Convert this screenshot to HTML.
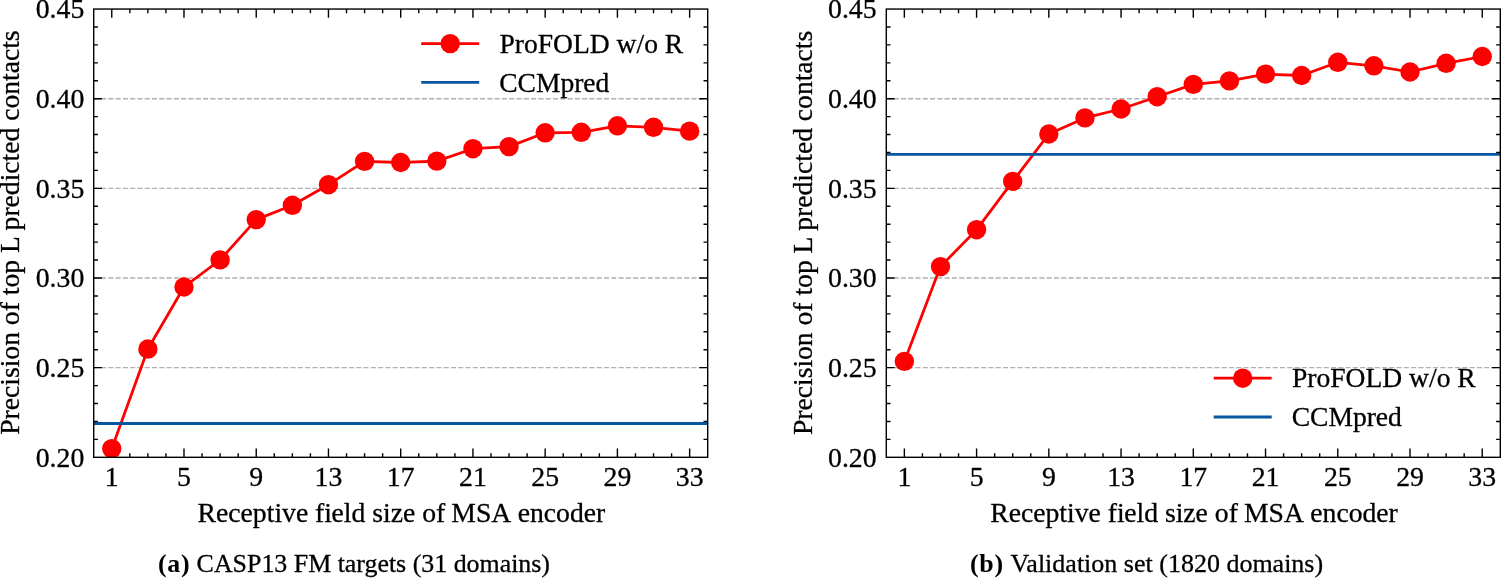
<!DOCTYPE html>
<html lang="en"><head><meta charset="utf-8"><title>Precision vs receptive field size</title>
<style>html,body{margin:0;padding:0;background:#fff;overflow:hidden}svg{display:block}
text{stroke:#000;stroke-width:0.3px;stroke-linejoin:round}</style>
</head><body>
<svg width="1501" height="578" viewBox="0 0 1501 578" font-family="'Liberation Serif', serif" font-size="27.78" fill="#000">
<rect width="1501" height="578" fill="#fff"/>
<g class="t">
<g>
<clipPath id="cp1"><rect x="93.70" y="9.05" width="614.00" height="448.25"/></clipPath>
<line x1="93.70" y1="367.65" x2="707.70" y2="367.65" stroke="#b0b0b0" stroke-width="1.39" stroke-dasharray="5.09 2.2"/>
<line x1="93.70" y1="278.00" x2="707.70" y2="278.00" stroke="#b0b0b0" stroke-width="1.39" stroke-dasharray="5.09 2.2"/>
<line x1="93.70" y1="188.35" x2="707.70" y2="188.35" stroke="#b0b0b0" stroke-width="1.39" stroke-dasharray="5.09 2.2"/>
<line x1="93.70" y1="98.70" x2="707.70" y2="98.70" stroke="#b0b0b0" stroke-width="1.39" stroke-dasharray="5.09 2.2"/>
<path d="M111.76 457.30v-8.7M111.76 9.05v8.7M129.82 457.30v-4.1M129.82 9.05v4.1M147.88 457.30v-4.1M147.88 9.05v4.1M165.94 457.30v-4.1M165.94 9.05v4.1M183.99 457.30v-8.7M183.99 9.05v8.7M202.05 457.30v-4.1M202.05 9.05v4.1M220.11 457.30v-4.1M220.11 9.05v4.1M238.17 457.30v-4.1M238.17 9.05v4.1M256.23 457.30v-8.7M256.23 9.05v8.7M274.29 457.30v-4.1M274.29 9.05v4.1M292.35 457.30v-4.1M292.35 9.05v4.1M310.41 457.30v-4.1M310.41 9.05v4.1M328.46 457.30v-8.7M328.46 9.05v8.7M346.52 457.30v-4.1M346.52 9.05v4.1M364.58 457.30v-4.1M364.58 9.05v4.1M382.64 457.30v-4.1M382.64 9.05v4.1M400.70 457.30v-8.7M400.70 9.05v8.7M418.76 457.30v-4.1M418.76 9.05v4.1M436.82 457.30v-4.1M436.82 9.05v4.1M454.88 457.30v-4.1M454.88 9.05v4.1M472.94 457.30v-8.7M472.94 9.05v8.7M490.99 457.30v-4.1M490.99 9.05v4.1M509.05 457.30v-4.1M509.05 9.05v4.1M527.11 457.30v-4.1M527.11 9.05v4.1M545.17 457.30v-8.7M545.17 9.05v8.7M563.23 457.30v-4.1M563.23 9.05v4.1M581.29 457.30v-4.1M581.29 9.05v4.1M599.35 457.30v-4.1M599.35 9.05v4.1M617.41 457.30v-8.7M617.41 9.05v8.7M635.46 457.30v-4.1M635.46 9.05v4.1M653.52 457.30v-4.1M653.52 9.05v4.1M671.58 457.30v-4.1M671.58 9.05v4.1M689.64 457.30v-8.7M689.64 9.05v8.7M93.70 439.37h4.2M707.70 439.37h-4.2M93.70 421.44h4.2M707.70 421.44h-4.2M93.70 403.51h4.2M707.70 403.51h-4.2M93.70 385.58h4.2M707.70 385.58h-4.2M93.70 367.65h8.3M707.70 367.65h-8.5M93.70 349.72h4.2M707.70 349.72h-4.2M93.70 331.79h4.2M707.70 331.79h-4.2M93.70 313.86h4.2M707.70 313.86h-4.2M93.70 295.93h4.2M707.70 295.93h-4.2M93.70 278.00h8.3M707.70 278.00h-8.5M93.70 260.07h4.2M707.70 260.07h-4.2M93.70 242.14h4.2M707.70 242.14h-4.2M93.70 224.21h4.2M707.70 224.21h-4.2M93.70 206.28h4.2M707.70 206.28h-4.2M93.70 188.35h8.3M707.70 188.35h-8.5M93.70 170.42h4.2M707.70 170.42h-4.2M93.70 152.49h4.2M707.70 152.49h-4.2M93.70 134.56h4.2M707.70 134.56h-4.2M93.70 116.63h4.2M707.70 116.63h-4.2M93.70 98.70h8.3M707.70 98.70h-8.5M93.70 80.77h4.2M707.70 80.77h-4.2M93.70 62.84h4.2M707.70 62.84h-4.2M93.70 44.91h4.2M707.70 44.91h-4.2M93.70 26.98h4.2M707.70 26.98h-4.2" stroke="#000" stroke-width="1.4" fill="none"/>
<g clip-path="url(#cp1)"><polyline points="111.76,448.70 147.88,349.05 183.99,287.00 220.11,259.90 256.23,219.60 292.35,205.30 328.46,184.70 364.58,161.40 400.70,162.50 436.82,161.10 472.94,148.70 509.05,146.65 545.17,132.80 581.29,132.30 617.41,125.80 653.52,127.30 689.64,131.15" fill="none" stroke="#ff0000" stroke-width="2.78" stroke-linejoin="round"/>
<circle cx="111.76" cy="448.70" r="9.7" fill="#ff0000"/>
<circle cx="147.88" cy="349.05" r="9.7" fill="#ff0000"/>
<circle cx="183.99" cy="287.00" r="9.7" fill="#ff0000"/>
<circle cx="220.11" cy="259.90" r="9.7" fill="#ff0000"/>
<circle cx="256.23" cy="219.60" r="9.7" fill="#ff0000"/>
<circle cx="292.35" cy="205.30" r="9.7" fill="#ff0000"/>
<circle cx="328.46" cy="184.70" r="9.7" fill="#ff0000"/>
<circle cx="364.58" cy="161.40" r="9.7" fill="#ff0000"/>
<circle cx="400.70" cy="162.50" r="9.7" fill="#ff0000"/>
<circle cx="436.82" cy="161.10" r="9.7" fill="#ff0000"/>
<circle cx="472.94" cy="148.70" r="9.7" fill="#ff0000"/>
<circle cx="509.05" cy="146.65" r="9.7" fill="#ff0000"/>
<circle cx="545.17" cy="132.80" r="9.7" fill="#ff0000"/>
<circle cx="581.29" cy="132.30" r="9.7" fill="#ff0000"/>
<circle cx="617.41" cy="125.80" r="9.7" fill="#ff0000"/>
<circle cx="653.52" cy="127.30" r="9.7" fill="#ff0000"/>
<circle cx="689.64" cy="131.15" r="9.7" fill="#ff0000"/>
</g>
<line x1="93.70" y1="423.50" x2="707.70" y2="423.50" stroke="#07579f" stroke-width="2.78"/>
<rect x="93.70" y="9.05" width="614.00" height="448.25" fill="none" stroke="#000" stroke-width="1.4"/>
<text x="111.76" y="486.1" text-anchor="middle">1</text>
<text x="183.99" y="486.1" text-anchor="middle">5</text>
<text x="256.23" y="486.1" text-anchor="middle">9</text>
<text x="328.46" y="486.1" text-anchor="middle">13</text>
<text x="400.70" y="486.1" text-anchor="middle">17</text>
<text x="472.94" y="486.1" text-anchor="middle">21</text>
<text x="545.17" y="486.1" text-anchor="middle">25</text>
<text x="617.41" y="486.1" text-anchor="middle">29</text>
<text x="689.64" y="486.1" text-anchor="middle">33</text>
<text x="84.30" y="466.60" text-anchor="end">0.20</text>
<text x="84.30" y="376.95" text-anchor="end">0.25</text>
<text x="84.30" y="287.30" text-anchor="end">0.30</text>
<text x="84.30" y="197.65" text-anchor="end">0.35</text>
<text x="84.30" y="108.00" text-anchor="end">0.40</text>
<text x="84.30" y="18.35" text-anchor="end">0.45</text>
<text x="197.60" y="521.7" font-size="27.66">Receptive fi<tspan dx="-0.4">eld size of </tspan><tspan dx="-0.8">MSA </tspan><tspan dx="1">encoder</tspan></text>
<text transform="translate(19.20,232.60) rotate(-90)" text-anchor="middle" font-size="27.6">Precision of top L predicted contacts</text>
<line x1="421.20" y1="43.65" x2="479.20" y2="43.65" stroke="#ff0000" stroke-width="2.78"/>
<circle cx="450.20" cy="43.65" r="9.7" fill="#ff0000"/>
<line x1="421.20" y1="82.45" x2="479.20" y2="82.45" stroke="#07579f" stroke-width="2.78"/>
<text x="499.50" y="52.60" font-size="27.56">ProFOLD w/o R</text>
<text x="499.20" y="91.60" font-size="27.56">CCMpred</text>
<text x="157.9" y="572.4" font-size="25.9"><tspan font-weight="bold" stroke="none" letter-spacing="0.75">(a)</tspan><tspan x="190.15"> CASP13 FM targets (31 domains)</tspan></text>
</g>
<g>
<clipPath id="cp2"><rect x="886.30" y="9.05" width="614.00" height="448.25"/></clipPath>
<line x1="886.30" y1="367.65" x2="1500.30" y2="367.65" stroke="#b0b0b0" stroke-width="1.39" stroke-dasharray="5.09 2.2"/>
<line x1="886.30" y1="278.00" x2="1500.30" y2="278.00" stroke="#b0b0b0" stroke-width="1.39" stroke-dasharray="5.09 2.2"/>
<line x1="886.30" y1="188.35" x2="1500.30" y2="188.35" stroke="#b0b0b0" stroke-width="1.39" stroke-dasharray="5.09 2.2"/>
<line x1="886.30" y1="98.70" x2="1500.30" y2="98.70" stroke="#b0b0b0" stroke-width="1.39" stroke-dasharray="5.09 2.2"/>
<path d="M904.36 457.30v-8.7M904.36 9.05v8.7M922.42 457.30v-4.1M922.42 9.05v4.1M940.48 457.30v-4.1M940.48 9.05v4.1M958.54 457.30v-4.1M958.54 9.05v4.1M976.59 457.30v-8.7M976.59 9.05v8.7M994.65 457.30v-4.1M994.65 9.05v4.1M1012.71 457.30v-4.1M1012.71 9.05v4.1M1030.77 457.30v-4.1M1030.77 9.05v4.1M1048.83 457.30v-8.7M1048.83 9.05v8.7M1066.89 457.30v-4.1M1066.89 9.05v4.1M1084.95 457.30v-4.1M1084.95 9.05v4.1M1103.01 457.30v-4.1M1103.01 9.05v4.1M1121.06 457.30v-8.7M1121.06 9.05v8.7M1139.12 457.30v-4.1M1139.12 9.05v4.1M1157.18 457.30v-4.1M1157.18 9.05v4.1M1175.24 457.30v-4.1M1175.24 9.05v4.1M1193.30 457.30v-8.7M1193.30 9.05v8.7M1211.36 457.30v-4.1M1211.36 9.05v4.1M1229.42 457.30v-4.1M1229.42 9.05v4.1M1247.48 457.30v-4.1M1247.48 9.05v4.1M1265.54 457.30v-8.7M1265.54 9.05v8.7M1283.59 457.30v-4.1M1283.59 9.05v4.1M1301.65 457.30v-4.1M1301.65 9.05v4.1M1319.71 457.30v-4.1M1319.71 9.05v4.1M1337.77 457.30v-8.7M1337.77 9.05v8.7M1355.83 457.30v-4.1M1355.83 9.05v4.1M1373.89 457.30v-4.1M1373.89 9.05v4.1M1391.95 457.30v-4.1M1391.95 9.05v4.1M1410.01 457.30v-8.7M1410.01 9.05v8.7M1428.06 457.30v-4.1M1428.06 9.05v4.1M1446.12 457.30v-4.1M1446.12 9.05v4.1M1464.18 457.30v-4.1M1464.18 9.05v4.1M1482.24 457.30v-8.7M1482.24 9.05v8.7M886.30 439.37h4.2M1500.30 439.37h-4.2M886.30 421.44h4.2M1500.30 421.44h-4.2M886.30 403.51h4.2M1500.30 403.51h-4.2M886.30 385.58h4.2M1500.30 385.58h-4.2M886.30 367.65h8.3M1500.30 367.65h-8.5M886.30 349.72h4.2M1500.30 349.72h-4.2M886.30 331.79h4.2M1500.30 331.79h-4.2M886.30 313.86h4.2M1500.30 313.86h-4.2M886.30 295.93h4.2M1500.30 295.93h-4.2M886.30 278.00h8.3M1500.30 278.00h-8.5M886.30 260.07h4.2M1500.30 260.07h-4.2M886.30 242.14h4.2M1500.30 242.14h-4.2M886.30 224.21h4.2M1500.30 224.21h-4.2M886.30 206.28h4.2M1500.30 206.28h-4.2M886.30 188.35h8.3M1500.30 188.35h-8.5M886.30 170.42h4.2M1500.30 170.42h-4.2M886.30 152.49h4.2M1500.30 152.49h-4.2M886.30 134.56h4.2M1500.30 134.56h-4.2M886.30 116.63h4.2M1500.30 116.63h-4.2M886.30 98.70h8.3M1500.30 98.70h-8.5M886.30 80.77h4.2M1500.30 80.77h-4.2M886.30 62.84h4.2M1500.30 62.84h-4.2M886.30 44.91h4.2M1500.30 44.91h-4.2M886.30 26.98h4.2M1500.30 26.98h-4.2" stroke="#000" stroke-width="1.4" fill="none"/>
<g clip-path="url(#cp2)"><polyline points="904.36,361.40 940.48,266.60 976.59,229.70 1012.71,181.40 1048.83,134.00 1084.95,117.90 1121.06,109.00 1157.18,96.70 1193.30,84.40 1229.42,80.90 1265.54,74.10 1301.65,75.50 1337.77,62.30 1373.89,65.80 1410.01,72.00 1446.12,63.30 1482.24,56.50" fill="none" stroke="#ff0000" stroke-width="2.78" stroke-linejoin="round"/>
<circle cx="904.36" cy="361.40" r="9.7" fill="#ff0000"/>
<circle cx="940.48" cy="266.60" r="9.7" fill="#ff0000"/>
<circle cx="976.59" cy="229.70" r="9.7" fill="#ff0000"/>
<circle cx="1012.71" cy="181.40" r="9.7" fill="#ff0000"/>
<circle cx="1048.83" cy="134.00" r="9.7" fill="#ff0000"/>
<circle cx="1084.95" cy="117.90" r="9.7" fill="#ff0000"/>
<circle cx="1121.06" cy="109.00" r="9.7" fill="#ff0000"/>
<circle cx="1157.18" cy="96.70" r="9.7" fill="#ff0000"/>
<circle cx="1193.30" cy="84.40" r="9.7" fill="#ff0000"/>
<circle cx="1229.42" cy="80.90" r="9.7" fill="#ff0000"/>
<circle cx="1265.54" cy="74.10" r="9.7" fill="#ff0000"/>
<circle cx="1301.65" cy="75.50" r="9.7" fill="#ff0000"/>
<circle cx="1337.77" cy="62.30" r="9.7" fill="#ff0000"/>
<circle cx="1373.89" cy="65.80" r="9.7" fill="#ff0000"/>
<circle cx="1410.01" cy="72.00" r="9.7" fill="#ff0000"/>
<circle cx="1446.12" cy="63.30" r="9.7" fill="#ff0000"/>
<circle cx="1482.24" cy="56.50" r="9.7" fill="#ff0000"/>
</g>
<line x1="886.30" y1="154.40" x2="1500.30" y2="154.40" stroke="#07579f" stroke-width="2.78"/>
<rect x="886.30" y="9.05" width="614.00" height="448.25" fill="none" stroke="#000" stroke-width="1.4"/>
<text x="904.36" y="486.1" text-anchor="middle">1</text>
<text x="976.59" y="486.1" text-anchor="middle">5</text>
<text x="1048.83" y="486.1" text-anchor="middle">9</text>
<text x="1121.06" y="486.1" text-anchor="middle">13</text>
<text x="1193.30" y="486.1" text-anchor="middle">17</text>
<text x="1265.54" y="486.1" text-anchor="middle">21</text>
<text x="1337.77" y="486.1" text-anchor="middle">25</text>
<text x="1410.01" y="486.1" text-anchor="middle">29</text>
<text x="1482.24" y="486.1" text-anchor="middle">33</text>
<text x="876.60" y="466.60" text-anchor="end">0.20</text>
<text x="876.60" y="376.95" text-anchor="end">0.25</text>
<text x="876.60" y="287.30" text-anchor="end">0.30</text>
<text x="876.60" y="197.65" text-anchor="end">0.35</text>
<text x="876.60" y="108.00" text-anchor="end">0.40</text>
<text x="876.60" y="18.35" text-anchor="end">0.45</text>
<text x="990.20" y="521.7" font-size="27.66">Receptive fi<tspan dx="-0.4">eld size of </tspan><tspan dx="-0.8">MSA </tspan><tspan dx="1">encoder</tspan></text>
<text transform="translate(811.80,232.90) rotate(-90)" text-anchor="middle" font-size="27.6">Precision of top L predicted contacts</text>
<line x1="1213.70" y1="378.20" x2="1271.70" y2="378.20" stroke="#ff0000" stroke-width="2.78"/>
<circle cx="1242.70" cy="378.20" r="9.7" fill="#ff0000"/>
<line x1="1213.70" y1="417.00" x2="1271.70" y2="417.00" stroke="#07579f" stroke-width="2.78"/>
<text x="1292.00" y="387.15" font-size="27.56">ProFOLD w/o R</text>
<text x="1291.70" y="426.15" font-size="27.56">CCMpred</text>
<text x="969.9" y="572.4" font-size="25.9"><tspan font-weight="bold" stroke="none" letter-spacing="0.8">(b)</tspan><tspan x="1004.45" font-size="26.01"> Validation set (1820 domains)</tspan></text>
</g>
</g>
</svg>
</body></html>
